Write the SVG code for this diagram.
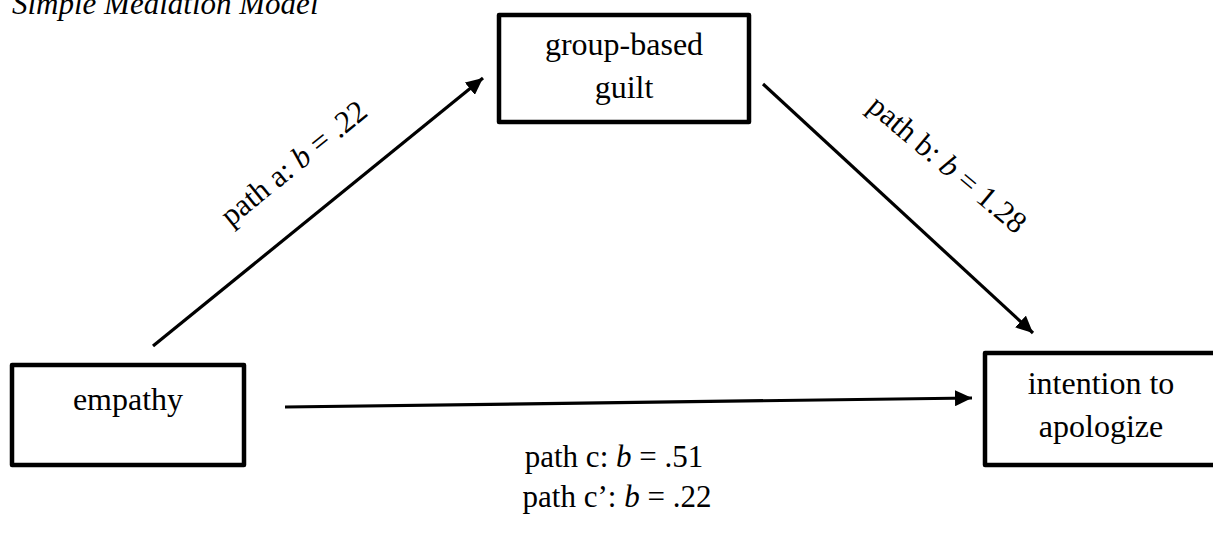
<svg xmlns="http://www.w3.org/2000/svg" width="1213" height="538" viewBox="0 0 1213 538">
<style>
.box{fill:#fff;stroke:#000;stroke-width:4.5;stroke-linejoin:round}
.t{font-family:"Liberation Serif","Times New Roman",serif;font-size:31px;fill:#000}
.n{font-size:32px}
.c{text-anchor:middle}
.edge{stroke:#000;stroke-width:3.2;fill:none}
</style>
<defs>
<marker id="arr" markerUnits="userSpaceOnUse" markerWidth="18" markerHeight="16" refX="17" refY="8" orient="auto">
<path d="M0,0 L17,8 L0,16 z" fill="#000"/>
</marker>
</defs>
<text class="t" x="12" y="14" font-style="italic" font-size="31.5">Simple Mediation Model</text>
<g id="connectors">
<line class="edge" x1="153" y1="346" x2="483" y2="78" marker-end="url(#arr)"/>
<line class="edge" x1="763" y1="84" x2="1033" y2="333" marker-end="url(#arr)"/>
<line class="edge" x1="285" y1="407" x2="972" y2="398" marker-end="url(#arr)"/>
<text class="t c" transform="translate(300,171) rotate(-39)">path a: <tspan font-style="italic">b</tspan> = .22</text>
<text class="t c" transform="translate(941,172) rotate(40)">path b: <tspan font-style="italic">b</tspan> = 1.28</text>
<text class="t c" x="614" y="467">path c: <tspan font-style="italic">b</tspan> = .51</text>
<text class="t c" x="617" y="507">path c’: <tspan font-style="italic">b</tspan> = .22</text>
</g>
<g id="node-guilt">
<rect class="box" x="499" y="15" width="250" height="107"/>
<text class="t n c" x="624" y="55">group-based</text>
<text class="t n c" x="624" y="98">guilt</text>
</g>
<g id="node-empathy">
<rect class="box" x="12" y="365" width="232" height="100"/>
<text class="t n c" x="128" y="410">empathy</text>
</g>
<g id="node-intention">
<rect class="box" x="985" y="353" width="240" height="112"/>
<text class="t n c" x="1101" y="394">intention to</text>
<text class="t n c" x="1101" y="437">apologize</text>
</g>
</svg>
